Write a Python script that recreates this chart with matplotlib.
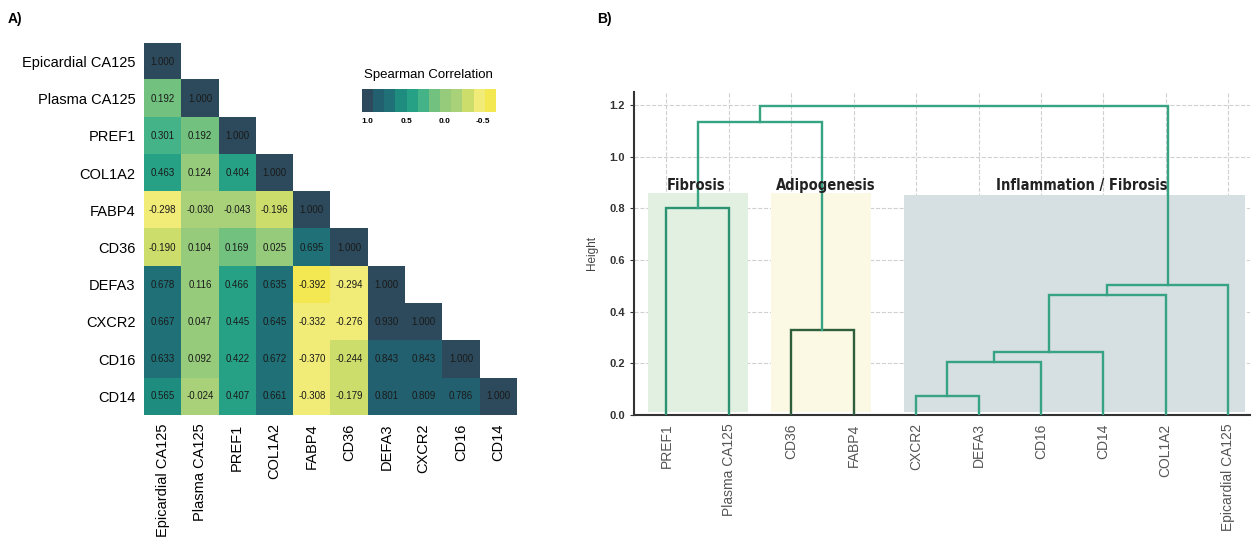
import numpy as np
import matplotlib
matplotlib.use("Agg")
from matplotlib import pyplot as plt
from matplotlib.colors import ListedColormap, BoundaryNorm
from matplotlib.patches import Rectangle

plt.rcParams['font.family'] = ['Liberation Sans', 'DejaVu Sans']

# --- panel A data: Spearman correlation (lower triangle) ---
genes = ['Epicardial CA125', 'Plasma CA125', 'PREF1', 'COL1A2', 'FABP4',
         'CD36', 'DEFA3', 'CXCR2', 'CD16', 'CD14']
corr_rows = [
    [1.000],
    [0.192, 1.000],
    [0.301, 0.192, 1.000],
    [0.463, 0.124, 0.404, 1.000],
    [-0.298, -0.030, -0.043, -0.196, 1.000],
    [-0.190, 0.104, 0.169, 0.025, 0.695, 1.000],
    [0.678, 0.116, 0.466, 0.635, -0.392, -0.294, 1.000],
    [0.667, 0.047, 0.445, 0.645, -0.332, -0.276, 0.930, 1.000],
    [0.633, 0.092, 0.422, 0.672, -0.370, -0.244, 0.843, 0.843, 1.000],
    [0.565, -0.024, 0.407, 0.661, -0.308, -0.179, 0.801, 0.809, 0.786, 1.000],
]
cbar_ticks = [1.0, 0.5, 0.0, -0.5]

# --- panel B data: dendrogram ---
leaf_order = ['PREF1', 'Plasma CA125', 'CD36', 'FABP4', 'CXCR2', 'DEFA3',
              'CD16', 'CD14', 'COL1A2', 'Epicardial CA125']
# (left cluster, right cluster, height); leaves are 0..9, new clusters 10..
merges = [
    (0, 1, 0.800),
    (2, 3, 0.329),
    (4, 5, 0.072),
    (12, 6, 0.206),
    (13, 7, 0.245),
    (14, 8, 0.466),
    (15, 9, 0.503),
    (10, 11, 1.135),
    (17, 16, 1.195),
]
group_names = ['Fibrosis', 'Adipogenesis', 'Inflammation / Fibrosis']
group_leaves = [(0, 1), (2, 3), (4, 9)]
group_colors = ['#e2f0e2', '#fbf9e4', '#d6dfe1']

# colour scale, bins from -0.5 to 1.0
bin_colors = ['#f3e752', '#f1eb78', '#cddd6c', '#a8d179', '#95cb7b', '#72c17f',
              '#45b388', '#27a186', '#1f8c80', '#1f7077', '#23606f', '#2c4a5c']
cmap = ListedColormap(bin_colors)
bounds = np.linspace(-0.5, 1.0, 13)
norm = BoundaryNorm(bounds, cmap.N)

fig = plt.figure(figsize=(12.52, 5.39), dpi=100)

# ---------------- A) heatmap ----------------
n = len(genes)
mat = np.full((n, n), np.nan)
for i, row in enumerate(corr_rows):
    mat[i, :len(row)] = row
ax = fig.add_axes([0.1150, 0.2301, 0.2979, 0.6902])
ax.imshow(np.ma.masked_invalid(mat), cmap=cmap, norm=norm, aspect='auto',
          interpolation='nearest')
for i, row in enumerate(corr_rows):
    for j, v in enumerate(row):
        ax.text(j, i, '%.3f' % v, ha='center', va='center', fontsize=7,
                color='#1a1a1a')
ax.set_xticks(range(n))
ax.set_xticklabels(genes, rotation=90, fontsize=10.5)
ax.set_yticks(range(n))
ax.set_yticklabels(genes, fontsize=10.5)
ax.tick_params(length=0, pad=6)
for s in ax.spines.values():
    s.set_visible(False)

# colour legend
cax = fig.add_axes([0.2891, 0.7922, 0.1070, 0.0427])
edges = np.linspace(1.075, -0.665, 13)
vals = (bounds[:-1] + bounds[1:]) / 2
cax.pcolormesh(edges, [0, 1], vals[::-1][None, :], cmap=cmap, norm=norm)
cax.set_xlim(1.075, -0.665)
cax.set_yticks([])
cax.set_xticks(cbar_ticks)
cax.set_xticklabels(['%.1f' % t for t in cbar_ticks], fontsize=6, fontweight='bold')
cax.tick_params(length=0, pad=4)
for s in cax.spines.values():
    s.set_visible(False)
cax.set_title('Spearman Correlation', fontsize=9.5, pad=8)

fig.text(0.006, 0.965, 'A)', fontsize=10, fontweight='bold', va='center')
fig.text(0.477, 0.965, 'B)', fontsize=10, fontweight='bold', va='center')

# ---------------- B) dendrogram ----------------
bx = fig.add_axes([0.5064, 0.2301, 0.4920, 0.5993])
pos = {i: float(i) for i in range(len(leaf_order))}
hgt = {i: 0.0 for i in range(len(leaf_order))}
for k, (a, b, h) in enumerate(merges):
    cid = len(leaf_order) + k
    col = '#36a383'
    if k == 0:
        col = '#2b9272'
    if k == 1:
        col = '#2f5e3c'
    bx.plot([pos[a], pos[a], pos[b], pos[b]], [hgt[a], h, h, hgt[b]],
            color=col, lw=1.7, zorder=3, solid_joinstyle='miter')
    pos[cid] = (pos[a] + pos[b]) / 2
    hgt[cid] = h

pads = [(0.30, 0.30), (0.33, 0.28), (0.20, 0.27)]
tops = [0.86, 0.86, 0.853]
for name, (l, r), c, (pl, pr), top in zip(group_names, group_leaves, group_colors, pads, tops):
    bx.add_patch(Rectangle((l - pl, 0.01), (r + pr) - (l - pl), top - 0.01,
                           facecolor=c, edgecolor='none', zorder=1))
label_x = [0.48, 2.55, 6.65]
for name, x in zip(group_names, label_x):
    bx.text(x, 0.888, name, ha='center', va='center', fontsize=10.5,
            fontweight='bold', family='DejaVu Sans', fontstretch='condensed',
            color='#222222', zorder=4)

bx.set_xlim(-0.52, 9.35)
bx.set_ylim(0, 1.25)
bx.set_xticks(range(len(leaf_order)))
bx.set_xticklabels(leaf_order, rotation=90, fontsize=10, color='#555555')
bx.set_yticks(np.arange(0, 1.21, 0.2))
bx.set_yticklabels(['%.1f' % v for v in np.arange(0, 1.21, 0.2)],
                   fontsize=8, fontweight='bold', color='#333333')
bx.set_ylabel('Height', fontsize=8.5, color='#444444', labelpad=8)
bx.grid(True, linestyle='--', color='#d0d0d0', lw=0.8, zorder=0)
bx.set_axisbelow(True)
for s in ['top', 'right']:
    bx.spines[s].set_visible(False)
for s in ['left', 'bottom']:
    bx.spines[s].set_color('#333333')
    bx.spines[s].set_linewidth(1.5)
bx.tick_params(axis='x', length=0, pad=6)
bx.tick_params(axis='y', length=3, color='#333333')

fig.savefig('out.png', dpi=100)
